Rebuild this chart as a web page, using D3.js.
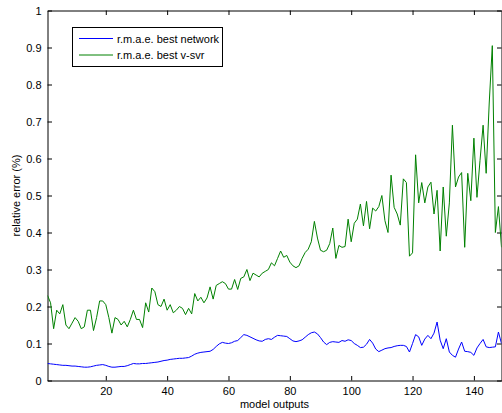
<!DOCTYPE html>
<html>
<head>
<meta charset="utf-8">
<script src="https://cdn.jsdelivr.net/npm/d3@7"></script>
<style>
  body { margin: 0; background: #fff; }
  svg { display: block; }
  text { font-family: "Liberation Sans", Arial, sans-serif; fill: #000; }
</style>
</head>
<body>
<script>
// model output index 1..149
var outputs = d3.range(1, 150);

var networkErr = [
  0.046, 0.045, 0.044, 0.043, 0.042, 0.041, 0.041, 0.040, 0.039, 0.039,
  0.038, 0.037, 0.036, 0.036, 0.037, 0.039, 0.041, 0.042, 0.043, 0.041,
  0.038, 0.036, 0.036, 0.037, 0.038, 0.038, 0.040, 0.043, 0.046, 0.045,
  0.045, 0.046, 0.046, 0.047, 0.048, 0.049, 0.050, 0.052, 0.054, 0.055,
  0.057, 0.058, 0.059, 0.060, 0.060, 0.061, 0.062, 0.066, 0.071, 0.074,
  0.076, 0.077, 0.078, 0.079, 0.084, 0.092, 0.099, 0.103, 0.101, 0.100,
  0.102, 0.106, 0.108, 0.116, 0.124, 0.122, 0.118, 0.114, 0.110, 0.107,
  0.106, 0.111, 0.113, 0.111, 0.117, 0.122, 0.121, 0.120, 0.119, 0.113,
  0.107, 0.105, 0.107, 0.110, 0.117, 0.124, 0.129, 0.131, 0.126, 0.116,
  0.104, 0.097, 0.103, 0.105, 0.104, 0.103, 0.108, 0.106, 0.110, 0.108,
  0.100, 0.095, 0.089, 0.090, 0.098, 0.111, 0.101, 0.085, 0.078, 0.082,
  0.086, 0.088, 0.089, 0.092, 0.094, 0.095, 0.095, 0.092, 0.077, 0.100,
  0.124, 0.118, 0.095, 0.112, 0.122, 0.113, 0.128, 0.158, 0.109, 0.086,
  0.113, 0.077, 0.068, 0.063, 0.085, 0.104, 0.079, 0.078, 0.076, 0.068,
  0.088, 0.100, 0.111, 0.091, 0.089, 0.090, 0.091, 0.131, 0.100
];

var svrErr = [
  0.230, 0.210, 0.140, 0.190, 0.180, 0.205, 0.150, 0.140, 0.155, 0.170,
  0.160, 0.140, 0.145, 0.190, 0.190, 0.135, 0.170, 0.215, 0.215, 0.205,
  0.170, 0.128, 0.170, 0.165, 0.150, 0.160, 0.145, 0.165, 0.190, 0.165,
  0.165, 0.143, 0.210, 0.185, 0.250, 0.240, 0.205, 0.200, 0.220, 0.190,
  0.205, 0.183, 0.190, 0.200, 0.195, 0.178, 0.195, 0.180, 0.235, 0.215,
  0.225, 0.210, 0.223, 0.253, 0.220, 0.257, 0.262, 0.267, 0.262, 0.247,
  0.247, 0.273, 0.246, 0.276, 0.280, 0.300, 0.270, 0.290, 0.285, 0.280,
  0.290, 0.295, 0.300, 0.318, 0.310, 0.330, 0.350, 0.333, 0.338, 0.320,
  0.310, 0.305, 0.310, 0.330, 0.346, 0.355, 0.375, 0.430, 0.385, 0.352,
  0.348, 0.352, 0.370, 0.412, 0.330, 0.365, 0.360, 0.362, 0.436, 0.375,
  0.425, 0.436, 0.477, 0.418, 0.484, 0.410, 0.466, 0.458, 0.470, 0.500,
  0.432, 0.400, 0.555, 0.468, 0.450, 0.420, 0.545, 0.535, 0.336, 0.345,
  0.610, 0.480, 0.535, 0.480, 0.523, 0.536, 0.450, 0.514, 0.350, 0.523,
  0.390, 0.480, 0.690, 0.523, 0.550, 0.562, 0.360, 0.560, 0.486, 0.655,
  0.495, 0.595, 0.690, 0.560, 0.750, 0.905, 0.400, 0.470, 0.360
];

var xTicks = [20, 40, 60, 80, 100, 120, 140];
var yTicks = [0, 0.1, 0.2, 0.3, 0.4, 0.5, 0.6, 0.7, 0.8, 0.9, 1];
var yTickLabels = ["0", "0.1", "0.2", "0.3", "0.4", "0.5", "0.6", "0.7", "0.8", "0.9", "1"];
var seriesNames = ["r.m.a.e. best network", "r.m.a.e. best v-svr"];
var seriesColors = ["#0000ff", "#008000"];

var width = 502,
    height = 413;
var plotL = 47.5, plotR = 501.5, plotT = 10.5, plotB = 380.5;

var svg = d3.select("body").append("svg")
    .attr("width", width)
    .attr("height", height);

var x = d3.scaleLinear().domain([1, 149]).range([plotL, plotR]);
var y = d3.scaleLinear().domain([0, 1]).range([plotB, plotT]);

var tick = 4.5;

// axes, MATLAB style: ticks point inward on all four sides
svg.append("g")
    .attr("transform", "translate(0," + plotB + ")")
    .call(d3.axisBottom(x).tickValues(xTicks).tickSizeInner(-tick).tickSizeOuter(0).tickPadding(7));
svg.append("g")
    .attr("transform", "translate(" + plotL + ",0)")
    .call(d3.axisLeft(y).tickValues(yTicks).tickFormat(function(d, i) { return yTickLabels[i]; })
      .tickSizeInner(-tick).tickSizeOuter(0).tickPadding(6));
svg.append("g")
    .attr("transform", "translate(0," + plotT + ")")
    .call(d3.axisTop(x).tickValues(xTicks).tickSizeInner(-tick).tickSizeOuter(0).tickFormat(""));
svg.append("g")
    .attr("transform", "translate(" + plotR + ",0)")
    .call(d3.axisRight(y).tickValues(yTicks).tickSizeInner(-tick).tickSizeOuter(0).tickFormat(""));

svg.selectAll(".domain").attr("stroke", "#000").attr("stroke-width", 1);
svg.selectAll(".tick line").attr("stroke", "#000");
svg.selectAll(".tick text")
    .style("font-family", "'Liberation Sans', Arial, sans-serif")
    .style("font-size", "11px")
    .attr("fill", "#000");

// lines
var line = d3.line()
    .x(function(d, i) { return x(outputs[i]); })
    .y(function(d) { return y(d); });

svg.append("defs").append("clipPath").attr("id", "plot")
  .append("rect").attr("x", plotL).attr("y", plotT).attr("width", plotR - plotL).attr("height", plotB - plotT);

var plot = svg.append("g").attr("clip-path", "url(#plot)");
[networkErr, svrErr].forEach(function(s, k) {
  plot.append("path")
      .datum(s)
      .attr("fill", "none")
      .attr("stroke", seriesColors[k])
      .attr("stroke-width", 1)
      .attr("d", line);
});

// labels
svg.append("text")
    .attr("x", (plotL + plotR) / 2)
    .attr("y", 408)
    .attr("text-anchor", "middle")
    .style("font-size", "11px")
    .text("model outputs");

svg.append("text")
    .attr("transform", "translate(20," + ((plotT + plotB) / 2) + ") rotate(-90)")
    .attr("text-anchor", "middle")
    .style("font-size", "11px")
    .text("relative error (%)");

// legend
var legend = svg.append("g");
legend.append("rect")
    .attr("x", 72.5).attr("y", 27.5)
    .attr("width", 150).attr("height", 39)
    .attr("fill", "#fff")
    .attr("stroke", "#000");

seriesNames.forEach(function(name, k) {
  var ly = 38.5 + k * 16.5;
  legend.append("line")
      .attr("x1", 79).attr("x2", 113)
      .attr("y1", ly).attr("y2", ly)
      .attr("stroke", seriesColors[k]);
  legend.append("text")
      .attr("x", 117)
      .attr("y", ly + 4)
      .style("font-size", "11px")
      .text(name);
});
</script>
</body>
</html>
